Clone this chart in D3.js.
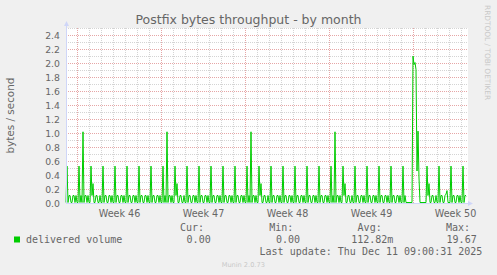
<!DOCTYPE html>
<html>
<head>
<meta charset="utf-8">
<script src="https://cdn.jsdelivr.net/npm/d3@7"></script>
<style>
  body { margin: 0; background: #f0f0f0; }
  svg { display: block; }
  text { font-family: "DejaVu Sans"; fill: #666; }
  text.mono { font-family: "DejaVu Sans Mono"; }
</style>
</head>
<body>
<script>
// delivered volume, bytes/s, one value per 2 hours, one row per day (UTC)
var dayStart = Date.UTC(2025, 10, 9); // Sun 9 Nov 2025
var volume = [
  [0, 0, 0.52, 0, 0.1, 0.1, 0, 0, 0.1, 0.1, 0, 0.1],       // Sun 09 Nov
  [0, 0, 0.52, 0, 0.1, 0, 1.01, 0, 0.1, 0.1, 0, 0.1],      // Mon 10
  [0, 0, 0.52, 0.1, 0.27, 0, 0, 0.1, 0.1, 0, 0, 0.1],      // Tue 11
  [0, 0, 0.52, 0, 0.1, 0.1, 0, 0, 0.1, 0.1, 0, 0.1],       // Wed 12
  [0, 0, 0.52, 0, 0.1, 0.1, 0, 0, 0.1, 0.1, 0, 0.1],       // Thu 13
  [0, 0, 0.52, 0, 0.1, 0.1, 0, 0, 0.1, 0.1, 0, 0.1],       // Fri 14
  [0, 0, 0.52, 0, 0.1, 0.1, 0, 0, 0.1, 0.1, 0, 0.1],       // Sat 15
  [0, 0, 0.52, 0, 0.1, 0.1, 0, 0, 0.1, 0.1, 0, 0.1],       // Sun 16
  [0, 0, 0.52, 0, 0.1, 0, 1.01, 0, 0.1, 0.1, 0, 0.1],      // Mon 17
  [0, 0, 0.52, 0.1, 0.27, 0, 0, 0.1, 0.1, 0, 0, 0.1],      // Tue 18
  [0, 0, 0.52, 0, 0.1, 0.1, 0, 0, 0.1, 0.1, 0, 0.1],       // Wed 19
  [0, 0, 0.52, 0, 0.1, 0.1, 0, 0, 0.1, 0.1, 0, 0.1],       // Thu 20
  [0, 0, 0.52, 0, 0.1, 0.1, 0, 0, 0.1, 0.1, 0, 0.1],       // Fri 21
  [0, 0, 0.52, 0, 0.1, 0.1, 0, 0, 0.1, 0.1, 0, 0.1],       // Sat 22
  [0, 0, 0.52, 0, 0.1, 0.1, 0, 0, 0.1, 0.1, 0, 0.1],       // Sun 23
  [0, 0, 0.52, 0, 0.1, 0, 1.01, 0, 0.1, 0.1, 0, 0.1],      // Mon 24
  [0, 0, 0.52, 0.1, 0.27, 0, 0, 0.1, 0.1, 0, 0, 0.1],      // Tue 25
  [0, 0, 0.52, 0, 0.1, 0.1, 0, 0, 0.1, 0.1, 0, 0.1],       // Wed 26
  [0, 0, 0.52, 0, 0.1, 0.1, 0, 0, 0.1, 0.1, 0, 0.1],       // Thu 27
  [0, 0, 0.52, 0, 0.1, 0.1, 0, 0, 0.1, 0.1, 0, 0.1],       // Fri 28
  [0, 0, 0.52, 0, 0.1, 0.1, 0, 0, 0.1, 0.1, 0, 0.1],       // Sat 29
  [0, 0, 0.52, 0, 0.1, 0.1, 0, 0, 0.1, 0.1, 0, 0.1],       // Sun 30
  [0, 0, 0.52, 0, 0.1, 0, 1.01, 0, 0.1, 0.1, 0, 0.1],      // Mon 01 Dec
  [0, 0, 0.52, 0.1, 0.27, 0, 0, 0.1, 0.1, 0, 0, 0.1],      // Tue 02
  [0, 0, 0.52, 0, 0.1, 0.1, 0, 0, 0.1, 0.1, 0, 0.1],       // Wed 03
  [0, 0, 0.52, 0, 0.1, 0.1, 0, 0, 0.1, 0.1, 0, 0.1],       // Thu 04
  [0, 0, 0.52, 0, 0.1, 0.1, 0, 0, 0.1, 0.1, 0, 0.1],       // Fri 05
  [0, 0, 0.52, 0, 0.1, 0.1, 0, 0, 0.1, 0.1, 0, 0.1],       // Sat 06
  [0, 0, 0.52, 0, 0.1, 0, 0, 0, 0, 0, 0, 0],               // Sun 07
  [2.09, 1.97, 2.0, 1.9, 0.45, 1.02, 0.35, 0, 0, 0, 0, 0], // Mon 08
  [0, 0, 0.52, 0.1, 0.27, 0, 0, 0.1, 0.1, 0, 0, 0.1],      // Tue 09
  [0, 0, 0.52, 0, 0.1, 0.1, 0, 0, 0.1, 0.12, 0.17, 0],     // Wed 10
  [0, 0, 0.52, 0, 0.1, 0.1, 0, 0, 0.1, 0.1, 0, 0.1],       // Thu 11
  [0, 0, 0.52, 0, 0.1, 0.1]                                // Fri 12
];

var yTicks = [0, 0.2, 0.4, 0.6, 0.8, 1.0, 1.2, 1.4, 1.6, 1.8, 2.0, 2.2, 2.4];
var weekStarts = ["2025-11-10", "2025-11-17", "2025-11-24", "2025-12-01", "2025-12-08"];
var weekLabels = ["Week 46", "Week 47", "Week 48", "Week 49", "Week 50"];
var legendHeads = ["Cur:", "Min:", "Avg:", "Max:"];
var legendValues = ["0.00", "0.00", "112.82m", "19.67"];
var lastUpdate = "Last update: Thu Dec 11 09:00:31 2025";

var width = 497, height = 275;
var plotL = 66, plotR = 467, plotT = 28, plotB = 203;
var hour = 3600e3;

var svg = d3.select("body").append("svg")
  .attr("width", width)
  .attr("height", height);

svg.append("rect").attr("width", width).attr("height", height).attr("fill", "#f0f0f0");

var t0 = new Date(dayStart + 1 * hour);
var t1 = new Date(t0.getTime() + 802 * hour);

var x = d3.scaleUtc().domain([t0, t1]).range([plotL, plotR]);
var y = d3.scaleLinear().domain([0, 2.5]).range([plotB, plotT]);

svg.append("rect")
  .attr("x", plotL).attr("y", plotT)
  .attr("width", plotR - plotL + 1).attr("height", plotB - plotT + 1)
  .attr("fill", "#fff");

// horizontal grid
var yMinor = d3.range(1, 26).map(function(i){ return i / 10; });
svg.append("g").selectAll("line")
  .data(yMinor)
  .enter().append("line")
  .attr("x1", plotL).attr("x2", plotR + 1)
  .attr("y1", function(d){ return Math.round(y(d)) + 0.5; })
  .attr("y2", function(d){ return Math.round(y(d)) + 0.5; })
  .attr("stroke", function(d, i){ return (i % 2 == 1) ? "#e6a6a6" : "#d4d4d4"; })
  .attr("stroke-dasharray", "1,1");

// vertical grid: days, Mondays in red
var days = d3.utcDay.range(t0, t1);
svg.append("g").selectAll("line")
  .data(days)
  .enter().append("line")
  .attr("x1", function(d){ return Math.floor(x(d)) + 0.5; })
  .attr("x2", function(d){ return Math.floor(x(d)) + 0.5; })
  .attr("y1", plotT).attr("y2", plotB + 1)
  .attr("stroke", function(d){ return d.getUTCDay() == 1 ? "#e6a6a6" : "#d4d4d4"; })
  .attr("stroke-dasharray", "1,1");

// data
var points = [];
volume.forEach(function(row, d){
  row.forEach(function(v, s){
    points.push({ t: new Date(dayStart + (d * 24 + s * 2) * hour), v: v });
  });
});
points = points.filter(function(p){ return p.t >= t0 && p.t <= t1; });

var line = d3.line()
  .x(function(d){ return x(d.t) - 0.5; })
  .y(function(d){ return y(d.v) - 0.5; });

svg.append("path")
  .datum(points)
  .attr("d", line)
  .attr("fill", "none")
  .attr("stroke", "#00cc00")
  .attr("stroke-width", 1);

// axes + arrows
var axisColor = "#cfd6f8";
svg.append("line").attr("x1", plotL + 0.5).attr("x2", plotL + 0.5)
  .attr("y1", plotB + 1).attr("y2", 24).attr("stroke", axisColor);
svg.append("line").attr("x1", plotL).attr("x2", 470)
  .attr("y1", plotB + 0.5).attr("y2", plotB + 0.5).attr("stroke", axisColor);
svg.append("path").attr("d", "M" + (plotL + 0.5) + ",21 l-2.5,5 h5 z").attr("fill", axisColor);
svg.append("path").attr("d", "M473," + (plotB + 0.5) + " l-5,-2.5 v5 z").attr("fill", axisColor);

// y labels
svg.append("g").selectAll("text")
  .data(yTicks)
  .enter().append("text")
  .attr("x", 60)
  .attr("y", function(d){ return Math.round(y(d)) + 3.8; })
  .attr("text-anchor", "end")
  .style("font-size", "9.3px")
  .text(function(d){ return d3.format(".1f")(d); });

// week labels, centred in the week
svg.append("g").selectAll("text")
  .data(weekStarts)
  .enter().append("text")
  .attr("x", function(d){ return x(new Date(Date.parse(d + "T00:00:00Z") + 84 * hour)); })
  .attr("y", 216.5)
  .attr("text-anchor", "middle")
  .style("font-size", "9.6px")
  .text(function(d, i){ return weekLabels[i]; });

// title + unit
svg.append("text").attr("x", 248.5).attr("y", 24)
  .attr("text-anchor", "middle").style("font-size", "12.5px")
  .text("Postfix bytes throughput - by month");
svg.append("text")
  .attr("transform", "translate(14," + ((plotT + plotB) / 2) + ") rotate(-90)")
  .attr("text-anchor", "middle").style("font-size", "10.4px")
  .text("bytes / second");

svg.append("text")
  .attr("transform", "translate(485,5) rotate(90)")
  .style("font-size", "7.4px").style("fill", "#c8c8c8")
  .text("RRDTOOL / TOBI OETIKER");

// legend
svg.append("rect").attr("x", 14).attr("y", 236.5).attr("width", 6).attr("height", 6)
  .attr("fill", "#00cc00");
svg.append("text").attr("class", "mono").attr("x", 26).attr("y", 243)
  .style("font-size", "10px").text("delivered volume");

var headEnds = [204, 293.3, 381.7, 470];
var valueEnds = [210.7, 300, 393.3, 476.7];
svg.append("g").selectAll("text")
  .data(legendHeads)
  .enter().append("text")
  .attr("class", "mono")
  .attr("x", function(d, i){ return headEnds[i]; })
  .attr("y", 231)
  .attr("text-anchor", "end")
  .style("font-size", "10px")
  .text(function(d){ return d; });
svg.append("g").selectAll("text")
  .data(legendValues)
  .enter().append("text")
  .attr("class", "mono")
  .attr("x", function(d, i){ return valueEnds[i]; })
  .attr("y", 243)
  .attr("text-anchor", "end")
  .style("font-size", "10px")
  .text(function(d){ return d; });
svg.append("text").attr("class", "mono").attr("x", 482.3).attr("y", 255)
  .attr("text-anchor", "end").style("font-size", "10px").text(lastUpdate);

svg.append("text").attr("x", 243.3).attr("y", 267)
  .attr("text-anchor", "middle").style("font-size", "6.6px").style("fill", "#c8c8c8")
  .text("Munin 2.0.73");
</script>
</body>
</html>
